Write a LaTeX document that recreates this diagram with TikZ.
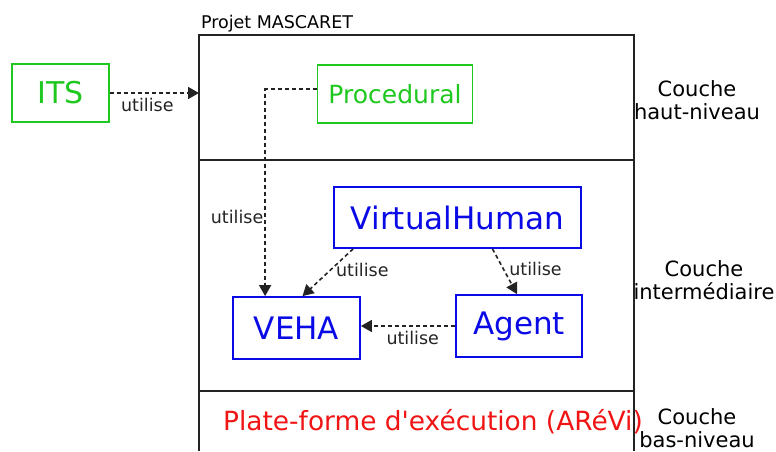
\documentclass[tikz,border=0pt]{standalone}
\usepackage{fontspec}
\setmainfont{DejaVu Sans}[Ligatures=TeXOff]
\usetikzlibrary{arrows.meta}

\definecolor{vert}{RGB}{30,200,30}
\definecolor{bleu}{RGB}{10,10,230}
\definecolor{rouge}{RGB}{240,20,20}
\definecolor{trait}{RGB}{35,35,35}

\begin{document}
\begin{tikzpicture}[x=1pt, y=-1pt,
  box/.style={draw, line width=1.8pt, inner sep=0pt},
  uses/.style={draw=trait, line width=1.6pt, dash pattern=on 4pt off 3pt,
               -{Triangle[length=11pt, width=12pt]}},
  lbl/.style={font=\fontsize{17.5}{20}\selectfont, text=trait, inner sep=1pt},
  layer/.style={font=\fontsize{21}{23}\selectfont, align=center, inner sep=0pt}]
\useasboundingbox (0,0) rectangle (776,451);
\begin{scope}[line width=2pt]

  % projet MASCARET
  \draw[trait] (199,451) -- (199,35) -- (634,35) -- (634,451);
  \draw[trait] (199,160) -- (634,160);
  \draw[trait] (199,391) -- (634,391);
  \node[anchor=base west, font=\fontsize{17.5}{20}\selectfont, inner sep=0pt]
        (projet) at (200,28) {Projet MASCARET};
  \coordinate (entree) at (199,93);

  % couche haut-niveau
  \node[box, draw=vert, text=vert, minimum width=97pt, minimum height=58pt,
        font=\fontsize{30}{34}\selectfont] (its) at (60.5,93) {ITS};
  \node[box, draw=vert, text=vert, minimum width=155pt, minimum height=58pt,
        font=\fontsize{25}{30}\selectfont] (proc) at (395,94) {Procedural};

  % couche intermediaire
  \node[box, draw=bleu, text=bleu, minimum width=247pt, minimum height=61pt,
        font=\fontsize{31}{36}\selectfont] (vh) at (457.5,217.5) {VirtualHuman};
  \node[box, draw=bleu, text=bleu, minimum width=127pt, minimum height=62pt,
        font=\fontsize{31}{36}\selectfont] (veha) at (296.5,328) {VEHA};
  \node[box, draw=bleu, text=bleu, minimum width=126pt, minimum height=62pt,
        font=\fontsize{31}{36}\selectfont] (agent) at (519,326) {Agent};

  % couche bas-niveau
  \node[text=rouge, font=\fontsize{26.4}{30}\selectfont] (arevi) at (433,422)
        {Plate-forme d'exécution (ARéVi)};

  % liens
  \draw[uses] (its.east) -- node[lbl, pos=0.42, below=3pt] {utilise} (entree);
  \draw[uses] ([yshift=5pt]proc.west) -| ([xshift=33pt]veha.north west)
        node[lbl, pos=0.81, left=0pt] {utilise};
  \draw[uses] ([xshift=20pt]vh.south west) -- ([xshift=6pt]veha.north)
        node[lbl, pos=0.45, right=4pt] {utilise};
  \draw[uses] ([xshift=35pt]vh.south) -- ([xshift=-2pt]agent.north)
        node[lbl, pos=0.45, right=4pt] {utilise};
  \draw[uses] (agent.west) -- node[lbl, pos=0.45, below=3pt] {utilise}
        (agent.west -| veha.east);

  % couches
  \node[layer] (haut) at (697,100) {Couche\\haut-niveau};
  \node[layer] (inter) at (704,280) {Couche\\intermédiaire};
  \node[layer] (bas) at (697,428) {Couche\\bas-niveau};
\end{scope}
\end{tikzpicture}
\end{document}
